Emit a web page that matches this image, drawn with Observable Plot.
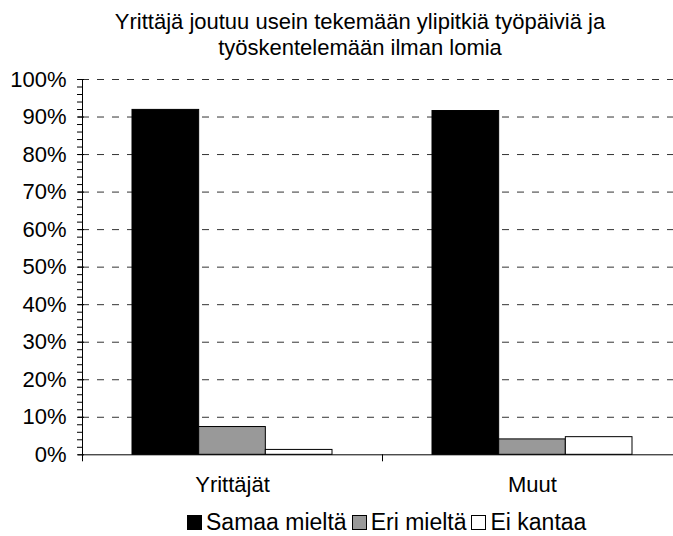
<!DOCTYPE html>
<html>
<head>
<meta charset="utf-8">
<script src="https://cdn.jsdelivr.net/npm/d3@7"></script>
<script src="https://cdn.jsdelivr.net/npm/@observablehq/plot@0.6"></script>
<style>
  html, body { margin: 0; padding: 0; background: white; overflow: hidden; }
  body { font-family: "Liberation Sans", Arial, sans-serif; color: #000; }
  #wrap { position: relative; width: 673px; height: 536px; overflow: hidden; }
  #title { position: absolute; left: 0; top: 0; width: 720px; padding-top: 9px;
           text-align: center; font-size: 22px; line-height: 26px; }
  #chart { position: absolute; left: 0; top: 64px; }
  #legend { position: absolute; left: 187px; top: 500px; padding-top: 9px; display: flex;
            align-items: center; font-size: 23px; line-height: 26px; white-space: nowrap; }
  .sw { display: inline-block; width: 15px; height: 15px; box-sizing: border-box;
        border: 1px solid #000; margin-right: 4px; }
  .item { display: flex; align-items: center; margin-right: 5px; }
</style>
</head>
<body>
<div id="wrap">
  <div id="title"></div>
  <div id="chart"></div>
  <div id="legend"></div>
</div>
<script>
const titleLines = ["Yrittäjä joutuu usein tekemään ylipitkiä työpäiviä ja", "työskentelemään ilman lomia"];
const categories = ["Yrittäjät", "Muut"];
const series = ["Samaa mieltä", "Eri mieltä", "Ei kantaa"];
const seriesColors = ["#000000", "#999999", "#ffffff"];
const samaaMielta = [91.9, 91.6];
const eriMielta = [7.4, 4.1];
const eiKantaa = [1.3, 4.7];
const yMajorTicks = [0, 10, 20, 30, 40, 50, 60, 70, 80, 90, 100];
const yMinorTicks = d3.range(0, 101, 2);
const yGridTicks = [10, 20, 30, 40, 50, 60, 70, 80, 90, 100];

const valuesBySeries = [samaaMielta, eriMielta, eiKantaa];
const rows = [];
series.forEach((s, si) => categories.forEach((c, ci) => rows.push({category: c, series: s, value: valuesBySeries[si][ci]})));

document.getElementById("title").innerHTML = titleLines.join("<br>");

const xRange = [82, 682];
const band = (xRange[1] - xRange[0]) / categories.length;
const barW = band * 2 / 9;
const inset = (band - barW) / 2;

const barMarks = series.map((s, si) => Plot.barY(rows.filter(r => r.series === s), {
  x: "category", y: "value", fill: seriesColors[si], stroke: "#000", strokeWidth: 1,
  insetLeft: inset, insetRight: inset, dx: (si - 1) * barW
}));

const chart = Plot.plot({
  width: 673, height: 436,
  marginLeft: 82, marginRight: 0, marginTop: 15, marginBottom: 45.7,
  style: {fontFamily: "'Liberation Sans', Arial, sans-serif", fontSize: "22px", color: "#000", background: "white", overflow: "visible"},
  x: {domain: categories, range: xRange, padding: 0, label: null},
  y: {domain: [0, 100], label: null},
  marks: [
    Plot.gridY(yGridTicks, {stroke: "#333", strokeOpacity: 1, strokeDasharray: "7,8"}),
    ...barMarks,
    Plot.ruleY([0], {stroke: "#000"}),
    Plot.axisY(yMinorTicks, {tickSize: 5, tickFormat: () => "", stroke: "#000"}),
    Plot.axisY(yMajorTicks, {tickSize: 6, dx: 2, tickFormat: () => "", stroke: "#000"}),
    Plot.axisY(yMajorTicks, {tickSize: 0, tickPadding: 16, tickFormat: d => d + "%", fontSize: 22, fill: "#000"}),
    Plot.axisX({tickSize: 0, tickPadding: 22, fontSize: 22, fill: "#000"})
  ]
});

// axis line and category boundary ticks from the library's scales
const xs = chart.scale("x");
const ys = chart.scale("y");
const svg = d3.select(chart.tagName.toLowerCase() === "svg" ? chart : chart.querySelector("svg"));
const y0 = ys.apply(0), y100 = ys.apply(100);
const g = svg.append("g").attr("stroke", "#000").attr("stroke-width", 1);
g.append("line").attr("x1", xs.range[0] + 0.5).attr("x2", xs.range[0] + 0.5).attr("y1", y100).attr("y2", y0 + 7);
categories.forEach((c, i) => {
  const bx = xs.apply(c) + xs.bandwidth;
  g.append("line").attr("x1", bx + 0.5).attr("x2", bx + 0.5).attr("y1", y0).attr("y2", y0 + 7);
});
document.getElementById("chart").appendChild(chart);

const legend = document.getElementById("legend");
series.forEach((s, i) => {
  const item = document.createElement("span");
  item.className = "item";
  const sw = document.createElement("span");
  sw.className = "sw";
  sw.style.background = seriesColors[i];
  item.appendChild(sw);
  item.appendChild(document.createTextNode(s));
  legend.appendChild(item);
});
</script>
</body>
</html>
